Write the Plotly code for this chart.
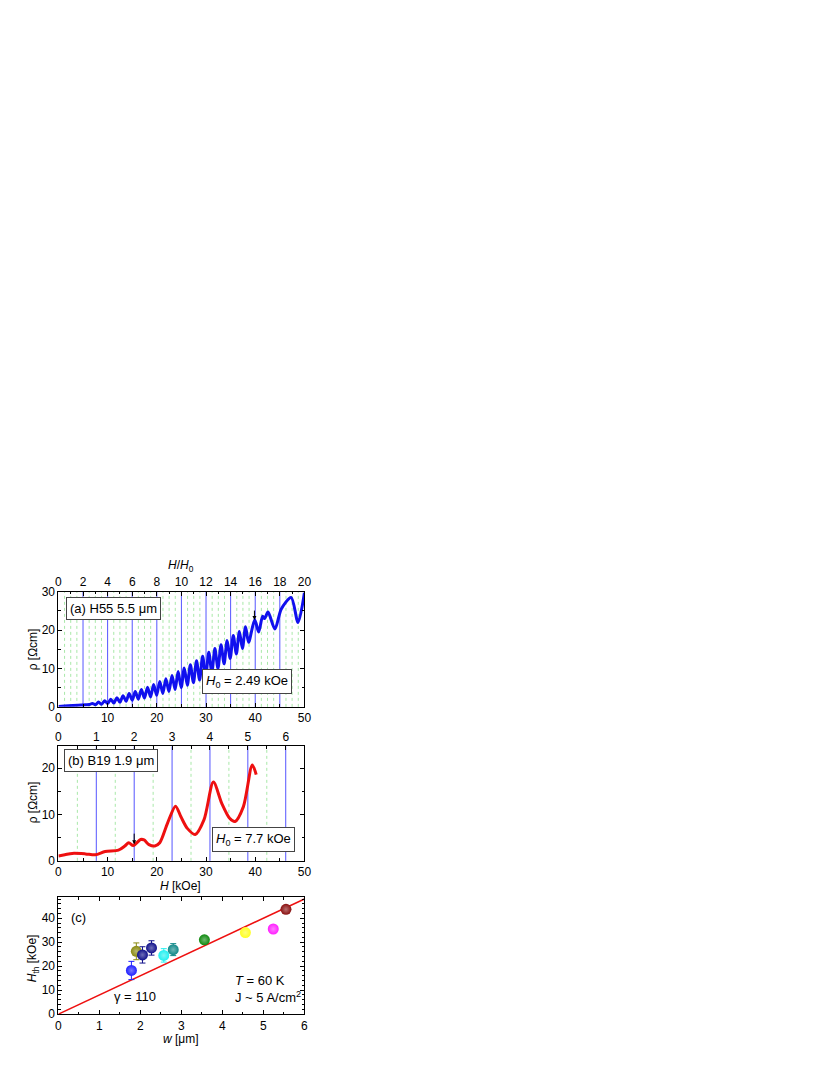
import plotly.graph_objects as go

# ---------------- data ----------------
H0_a = 2.49   # kOe
H0_b = 7.7    # kOe

# panel (a): H55 5.5 um, resistivity vs field (peaks / troughs)
H_a = [0, 2, 4, 5.5, 6.3,
       6.90, 7.52, 8.15, 8.77, 9.39, 10.01, 10.64, 11.26, 11.88, 12.50,
       13.13, 13.75, 14.37, 15.00, 15.62, 16.24, 16.86, 17.48, 18.11, 18.73,
       19.35, 19.97, 20.60, 21.22, 21.84, 22.46, 23.09, 23.71, 24.33, 24.95,
       25.58, 26.20, 26.82, 27.44, 28.07, 28.69, 29.31, 29.93, 30.56, 31.18,
       31.80, 32.42, 33.05, 33.67, 34.29, 34.91, 35.54, 36.16, 36.78, 37.40,
       38.03, 38.65, 39.90, 40.70, 41.50, 41.90, 42.60, 44.00, 45.30, 47.30,
       48.70, 50.0]
rho_a = [0.1, 0.3, 0.45, 0.55, 0.6,
         0.9, 0.55, 1.25, 0.65, 1.6, 0.85, 2.0, 1.0, 2.4, 1.2,
         2.9, 1.45, 3.5, 1.75, 4.0, 2.0, 4.5, 2.3, 5.1, 2.6,
         5.8, 3.0, 6.6, 3.5, 7.3, 4.0, 8.2, 4.5, 9.2, 5.0,
         10.1, 5.6, 11.0, 6.3, 12.0, 7.0, 13.2, 7.9, 14.2, 8.9,
         15.2, 10.0, 16.2, 11.2, 17.3, 12.6, 18.6, 13.8, 19.6, 15.2,
         20.9, 16.8, 22.7, 19.5, 23.6, 23.0, 24.7, 20.3, 25.5, 28.5,
         22.0, 29.7]

# panel (b): B19 1.9 um
H_b = [0, 1.3, 2.8, 5.5, 7.5, 9.5, 12.2, 13.5, 14.3, 15.2, 16.7, 17.4,
       18.4, 19.6, 20.6, 22.2, 23.8, 24.9, 26.2, 27.8, 29.6, 31.5,
       33.2, 34.8, 35.9, 37.6, 39.4, 40.2]
rho_b = [1.06, 1.3, 1.6, 1.5, 1.3, 2.0, 2.3, 3.2, 3.9, 3.3, 4.6, 4.5,
         3.5, 3.2, 3.9, 8.2, 11.8, 9.5, 7.0, 5.7, 8.9, 17.0,
         12.4, 9.2, 8.5, 11.7, 20.7, 18.6]

# panel (c): threshold field vs width
w_c = [1.78, 1.90, 2.05, 2.27, 2.57, 2.80, 3.56, 4.56, 5.24, 5.55]
Hth_c = [18.2, 26.2, 24.7, 27.6, 24.5, 26.9, 31.0, 34.0, 35.5, 43.7]
Hth_err = [3.8, 3.5, 3.4, 3.0, 2.8, 2.5, 1.5, 0.0, 0.0, 0.0]
colors_c = ['#1f1fff', '#8a8a10', '#10108a', '#10108a', '#20f0f0',
            '#108888', '#108a10', '#ffff20', '#ff20ff', '#8a1010']
w_line = [0, 6]
Hth_line = [0, 48]

# vertical guide lines (in units of H/H0)
blue_a = [2, 4, 6, 8, 10, 12, 14, 16, 18]
green_a = [0.5, 1, 1.5, 2.5, 3, 3.5, 4.5, 5, 5.5, 6.5, 7, 7.5, 8.5, 9, 9.5,
           10.5, 11, 11.5, 12.5, 13, 13.5, 14.5, 15, 15.5, 16.5, 17, 17.5,
           18.5, 19, 19.5]
blue_b = [1, 2, 3, 4, 5, 6]
green_b = [0.5, 1.5, 2.5, 3.5, 4.5, 5.5]

# ---------------- figure ----------------
W, Hh = 830, 1075
OFF = 8  # page body margin
FONT = "Arial, Liberation Sans, sans-serif"
TICKFONT = 12
TXT = 13


def px(x):
    return (x - OFF) / W


def py(y):
    return 1 - (y - OFF) / Hh


fig = go.Figure()

fig.add_trace(go.Scatter(x=H_a, y=rho_a, mode='lines',
                         line=dict(color='#1010ee', width=3, shape='spline', smoothing=0.8),
                         xaxis='x', yaxis='y', showlegend=False, hoverinfo='skip'))
fig.add_trace(go.Scatter(x=H_b, y=rho_b, mode='lines',
                         line=dict(color='#ee1010', width=3, shape='spline', smoothing=0.8),
                         xaxis='x3', yaxis='y2', showlegend=False, hoverinfo='skip'))
# dummy traces for the top axes
fig.add_trace(go.Scatter(x=[0], y=[None], xaxis='x2', yaxis='y', showlegend=False, hoverinfo='skip'))
fig.add_trace(go.Scatter(x=[0], y=[None], xaxis='x4', yaxis='y2', showlegend=False, hoverinfo='skip'))

fig.add_trace(go.Scatter(x=w_line, y=Hth_line, mode='lines', line=dict(color='#ee1010', width=1.5),
                         xaxis='x5', yaxis='y3', showlegend=False, hoverinfo='skip'))


def lighten(hexc, f=0.65):
    r, g, b = int(hexc[1:3], 16), int(hexc[3:5], 16), int(hexc[5:7], 16)
    r = int(r + (255 - r) * f); g = int(g + (255 - g) * f); b = int(b + (255 - b) * f)
    return f'rgb({r},{g},{b})'


for i in range(len(w_c)):
    err = Hth_err[i]
    fig.add_trace(go.Scatter(
        x=[w_c[i]], y=[Hth_c[i]], mode='markers',
        error_y=dict(type='data', array=[err], visible=err > 0, color=colors_c[i], thickness=1, width=3),
        marker=dict(size=11, color=colors_c[i], line=dict(width=0),
                    gradient=dict(type='radial', color=lighten(colors_c[i], 0.4))),
        xaxis='x5', yaxis='y3', showlegend=False, hoverinfo='skip'))

# vertical lines
shapes = []
for v in green_a:
    shapes.append(dict(type='line', xref='x2', yref='y domain', x0=v, x1=v, y0=0, y1=1,
                       line=dict(color='#a8e8a8', width=1, dash='dot'), layer='below'))
for v in blue_a:
    shapes.append(dict(type='line', xref='x2', yref='y domain', x0=v, x1=v, y0=0, y1=1,
                       line=dict(color='#5555ff', width=1), layer='below'))
for v in green_b:
    shapes.append(dict(type='line', xref='x4', yref='y2 domain', x0=v, x1=v, y0=0, y1=1,
                       line=dict(color='#a8e8a8', width=1, dash='dot'), layer='below'))
for v in blue_b:
    shapes.append(dict(type='line', xref='x4', yref='y2 domain', x0=v, x1=v, y0=0, y1=1,
                       line=dict(color='#5555ff', width=1), layer='below'))

xdom = [px(56), px(305)]
axcommon = dict(showline=True, linecolor='black', linewidth=1, ticks='inside', ticklen=4,
                tickwidth=1, tickcolor='black', showgrid=False, zeroline=False,
                tickfont=dict(family=FONT, size=TICKFONT, color='black'))
mn = lambda d: dict(dtick=d, ticks='inside', ticklen=2.5, tickcolor='black')

fig.update_layout(
    width=W, height=Hh, margin=dict(l=0, r=0, t=0, b=0),
    paper_bgcolor='white', plot_bgcolor='white',
    font=dict(family=FONT, size=TICKFONT, color='black'),
    shapes=shapes,
    xaxis=dict(domain=xdom, anchor='y', range=[0, 50], dtick=10, tick0=0, minor=mn(5), **axcommon),
    xaxis2=dict(overlaying='x', side='top', anchor='y', range=[0, 20], dtick=2, tick0=0,
                minor=mn(1), **axcommon),
    yaxis=dict(domain=[py(709), py(592.3)], anchor='x', range=[0, 30], dtick=10, tick0=0,
               mirror='ticks', minor=mn(5), **axcommon),
    xaxis3=dict(domain=xdom, anchor='y2', range=[0, 50], dtick=10, tick0=0, minor=mn(5), **axcommon),
    xaxis4=dict(overlaying='x3', side='top', anchor='y2', range=[0, 50 / H0_b], dtick=1, tick0=0,
                minor=mn(0.5), **axcommon),
    yaxis2=dict(domain=[py(865), py(749)], anchor='x3', range=[0, 24.7], dtick=10, tick0=0,
                mirror='ticks', minor=mn(5), **axcommon),
    xaxis5=dict(domain=xdom, anchor='y3', range=[0, 6], dtick=1, tick0=0, mirror='ticks',
                minor=mn(0.5), **axcommon),
    yaxis3=dict(domain=[py(1020.3), py(902)], anchor='x5', range=[0, 48.7], dtick=10, tick0=0,
                mirror='ticks', minor=mn(2), **axcommon),
)

ann = []


def txt(x, y, s, size=TXT, xanchor='center', box=False, angle=0):
    d = dict(xref='paper', yref='paper', x=px(x), y=py(y), text=s, showarrow=False,
             xanchor=xanchor, yanchor='middle', font=dict(family=FONT, size=size, color='black'),
             textangle=angle)
    if box:
        d.update(bordercolor='#444444', borderwidth=1, borderpad=3, bgcolor='white')
    ann.append(d)


# axis titles
txt(180, 566, '<i>H</i>/<i>H</i><sub>0</sub>', size=12)
txt(30, 651, 'ρ [Ωcm]', size=12, angle=-90)
txt(30, 806, 'ρ [Ωcm]', size=12, angle=-90)
txt(180, 890, '<i>H</i> [kOe]', size=12)
txt(30, 964, '<i>H</i><sub>th</sub> [kOe]', size=12, angle=-90)
txt(180, 1046, '<i>w</i> [μm]', size=12)

# boxed labels
txt(112, 609, '(a) H55 5.5 μm', box=True)
txt(247, 683, '<i>H</i><sub>0</sub> = 2.49 kOe', box=True)
txt(109, 763, '(b) B19 1.9 μm', box=True)
txt(253, 843, '<i>H</i><sub>0</sub> = 7.7 kOe', box=True)

# panel c texts
txt(67, 922, '(c)', xanchor='left')
txt(134, 1002, 'γ = 110')
txt(233, 986, '<i>T</i> = 60 K', xanchor='left')
txt(233, 1003, 'J ~ 5 A/cm<sup>2</sup>', xanchor='left')

# arrows
ann.append(dict(xref='x', yref='y', x=16 * H0_a, y=22.6, ax=0, ay=-11, text='', showarrow=True,
                arrowhead=2, arrowsize=0.8, arrowwidth=1, arrowcolor='black'))
ann.append(dict(xref='x3', yref='y2', x=2 * H0_b, y=3.6, ax=0, ay=-12, text='', showarrow=True,
                arrowhead=2, arrowsize=0.8, arrowwidth=1, arrowcolor='black'))

fig.update_layout(annotations=ann)

fig.write_html("out.html")
